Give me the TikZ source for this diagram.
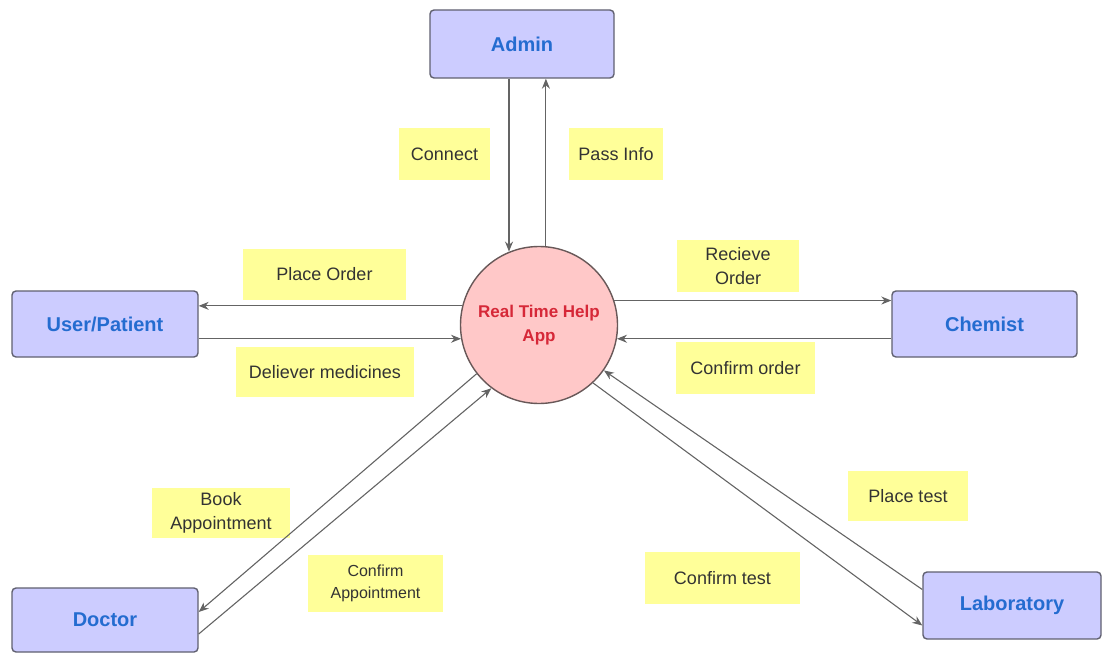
\documentclass[tikz,border=0pt]{standalone}
\usepackage{fontspec}
\setmainfont{Liberation Sans}
\usetikzlibrary{arrows.meta,calc}
\definecolor{boxfill}{RGB}{204,204,255}
\definecolor{boxdraw}{RGB}{96,96,112}
\definecolor{boxtext}{RGB}{36,108,208}
\definecolor{circfill}{RGB}{255,200,200}
\definecolor{circdraw}{RGB}{104,88,88}
\definecolor{apptext}{RGB}{214,40,56}
\definecolor{labfill}{RGB}{255,255,153}
\definecolor{linecol}{RGB}{100,100,100}
\tikzset{
  entity/.style={draw=boxdraw, line width=1.4pt, fill=boxfill, rounded corners=4pt,
    font=\fontsize{20}{24}\selectfont\bfseries, text=boxtext, inner sep=0pt},
  lbl/.style={fill=labfill, inner sep=0pt, align=center, text=black!80,
    font=\fontsize{18}{24}\selectfont},
  arr/.style={draw=linecol, line width=1.1pt, -{Stealth[length=10pt,width=8pt]}},
}
\begin{document}
\begin{tikzpicture}[x=1pt,y=-1pt]
\useasboundingbox (0,0) rectangle (1102,655);
% entities
\node[entity, minimum width=184pt, minimum height=68pt] (admin) at (522,44) {Admin};
\node[entity, minimum width=186pt, minimum height=66pt] (user) at (105,324) {User/Patient};
\node[entity, minimum width=185pt, minimum height=66pt] (chem) at (984.5,324) {Chemist};
\node[entity, minimum width=186pt, minimum height=64pt] (doc) at (105,620) {Doctor};
\node[entity, minimum width=178pt, minimum height=67pt] (lab) at (1012,605.5) {Laboratory};
% central process
\node[circle, draw=circdraw, line width=1.4pt, fill=circfill, minimum size=157pt, inner sep=0pt,
  align=center, text=apptext, font=\fontsize{17}{24}\selectfont\bfseries] (app) at (539,325)
  {Real Time Help\\App};
% labels
\node[lbl, minimum width=91pt, minimum height=52pt] (lconnect) at (444.5,154) {Connect};
\node[lbl, minimum width=94pt, minimum height=52pt] (lpass) at (616,154) {Pass Info};
\node[lbl, minimum width=163pt, minimum height=51pt] (lplace) at (324.5,274) {Place Order};
\node[lbl, minimum width=122pt, minimum height=52pt] (lrecv) at (738,266) {Recieve\\Order};
\node[lbl, minimum width=178pt, minimum height=50pt] (ldeliv) at (325,372) {Deliever medicines};
\node[lbl, minimum width=139pt, minimum height=52pt] (lconfo) at (745.5,368) {Confirm order};
\node[lbl, minimum width=138pt, minimum height=50pt] (lbook) at (221,513) {Book\\Appointment};
\node[lbl, minimum width=135pt, minimum height=57pt, font=\fontsize{16}{22}\selectfont] (lconfa) at (375.5,583.5) {Confirm\\Appointment};
\node[lbl, minimum width=120pt, minimum height=50pt] (lptest) at (908,496) {Place test};
\node[lbl, minimum width=155pt, minimum height=52pt] (lctest) at (722.5,578) {Confirm test};
% connectors
\draw[arr] ([xshift=-13pt]admin.south) -- ([xshift=-13pt]admin.south |- app.112);
\draw[arr] (app.85) -- (app.85 |- admin.south);
\draw[arr] (app.166) -- (app.166 -| user.east);
\draw[arr] (app.190 -| user.east) -- (app.190);
\draw[arr] (app.18) -- (app.18 -| chem.west);
\draw[arr] (app.350 -| chem.west) -- (app.350);
\draw[arr] (app.218) -- ([yshift=8pt]doc.east);
\draw[arr] ([yshift=-14pt]doc.east) -- (app.233);
\draw[arr] ([yshift=16pt]lab.west) -- (app.325);
\draw[arr] (app.313) -- ([yshift=-20pt]lab.west);
\end{tikzpicture}
\end{document}
